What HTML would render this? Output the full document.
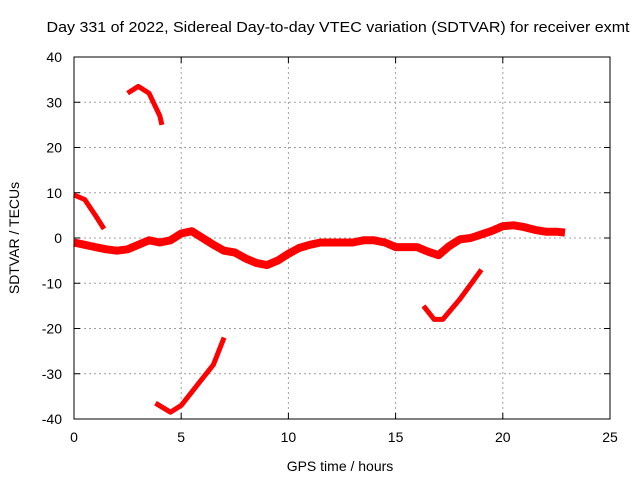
<!DOCTYPE html>
<html><head><meta charset="utf-8"><style>
body{margin:0;background:#fff}
svg{display:block;font-family:"Liberation Sans",sans-serif}
</style></head><body>
<svg id="chart" width="640" height="480">
<rect width="640" height="480" fill="#fff"/>
<text x="338" y="32" text-anchor="middle" font-size="15" textLength="583" lengthAdjust="spacingAndGlyphs" fill="#000">Day 331 of 2022, Sidereal Day-to-day VTEC variation (SDTVAR) for receiver exmt</text>
<text x="340" y="471" text-anchor="middle" font-size="14" fill="#000">GPS time / hours</text>
<text x="19" y="238" text-anchor="middle" font-size="14" fill="#000" transform="rotate(-90 19 238)">SDTVAR / TECUs</text>
<g id="grid"></g><g id="ticks"></g><g id="series"></g>
<rect x="74" y="57" width="536" height="362" fill="none" stroke="#000" stroke-width="1"/>
</svg>
<script>
const xTicks=[0,5,10,15,20,25];
const yTicks=[40,30,20,10,0,-10,-20,-30,-40];
const mainHours=[0,0.5,1,1.5,2,2.5,3,3.5,4,4.5,5,5.5,6,6.5,7,7.5,8,8.5,9,9.5,10,10.5,11,11.5,12,12.5,13,13.5,14,14.5,15,15.5,16,16.5,17,17.5,18,18.5,19,19.5,20,20.5,21,21.5,22,22.5,22.9];
const mainVals=[-1,-1.5,-2,-2.5,-2.8,-2.5,-1.5,-0.5,-1,-0.5,1,1.5,0,-1.5,-2.8,-3.2,-4.5,-5.5,-6,-5,-3.5,-2.2,-1.5,-1,-1,-1,-1,-0.5,-0.5,-1,-2,-2,-2,-3,-3.8,-1.8,-0.3,0,0.8,1.6,2.6,2.8,2.4,1.8,1.4,1.4,1.2];
const aHours=[0,0.5,1,1.4];
const aVals=[9.5,8.5,5,2];
const bHours=[2.5,3,3.5,4,4.1];
const bVals=[32,33.5,32,27,25];
const cHours=[3.8,4.5,5,6,6.5,7];
const cVals=[-36.5,-38.5,-37,-31,-28,-22];
const dHours=[16.3,16.8,17.2,18,19];
const dVals=[-15,-18,-18,-13.5,-7];
const X=h=>74+h*536/25, Y=v=>238-v*362/80;
const NS="http://www.w3.org/2000/svg";
const g=document.getElementById('grid'),t=document.getElementById('ticks'),s=document.getElementById('series');
function mk(tag,at,p){const e=document.createElementNS(NS,tag);for(const k in at)e.setAttribute(k,at[k]);p.appendChild(e);return e;}
xTicks.forEach(v=>{const x=X(v);
 if(v>0&&v<25){const l=mk('line',{x1:x,y1:57,x2:x,y2:419,stroke:'#a0a0a0','stroke-dasharray':'2,3'},g);
 
 }
 mk('line',{x1:x,y1:419,x2:x,y2:413,stroke:'#000'},t);mk('line',{x1:x,y1:57,x2:x,y2:63,stroke:'#000'},t);
 const tx=mk('text',{x:x,y:442,'text-anchor':'middle','font-size':14},t);tx.textContent=v;
 
 });
yTicks.forEach(v=>{const y=Y(v);
 if(v>-40&&v<40){const l=mk('line',{x1:74,y1:y,x2:610,y2:y,stroke:'#a0a0a0','stroke-dasharray':'2,3'},g);
 
 }
 mk('line',{x1:74,y1:y,x2:80,y2:y,stroke:'#000'},t);mk('line',{x1:610,y1:y,x2:604,y2:y,stroke:'#000'},t);
 const tx=mk('text',{x:62,y:y+5,'text-anchor':'end','font-size':14},t);tx.textContent=v;
 
 });
function draw(hs,vs,w,name){
 const pts=hs.map((h,i)=>X(h).toFixed(1)+','+Y(vs[i]).toFixed(1)).join(' ');
 const p=mk('polyline',{points:pts,fill:'none',stroke:'#ff0000','stroke-width':w,'stroke-linejoin':'round','stroke-linecap':'butt'},s);
 
 
}
draw(mainHours,mainVals,8,'series-main');
draw(aHours,aVals,5,'series-a');
draw(bHours,bVals,5,'series-b');
draw(cHours,cVals,5,'series-c');
draw(dHours,dVals,5,'series-d');
</script>
</body></html>
